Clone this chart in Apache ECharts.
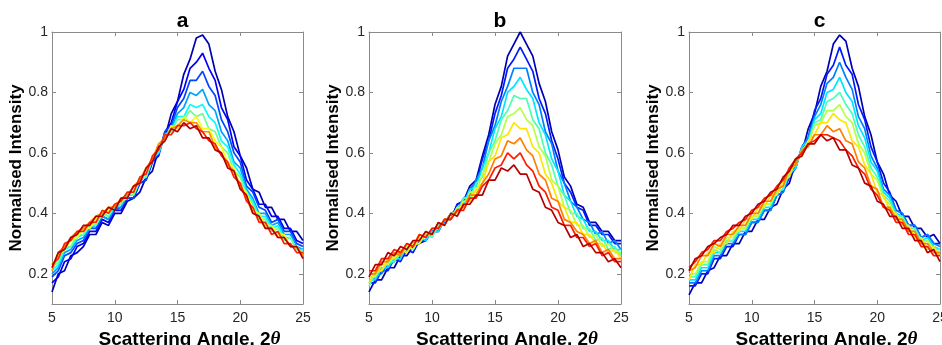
<!DOCTYPE html>
<html>
<head>
<meta charset="utf-8">
<script src="https://cdn.jsdelivr.net/npm/echarts@6/dist/echarts.min.js"></script>
<style>
  html, body { margin: 0; padding: 0; background: #fff; }
  #chart { width: 942px; height: 345px; }
</style>
</head>
<body>
<div id="chart"></div>
<script>
// scattering angle grid (2 theta), shared by all curves
const angles = [5,5.5,6,6.5,7,7.5,8,8.5,9,9.5,10,10.5,11,11.5,12,12.5,13,13.5,14,14.5,15,
  15.5,16,16.5,17,17.5,18,18.5,19,19.5,20,20.5,21,21.5,22,22.5,23,23.5,24,24.5,25];
const yTicks = [0.2, 0.4, 0.6, 0.8, 1];
const panelTitles = ['a', 'b', 'c'];

// normalised intensity, in hundredths, first curve (blue) to last curve (red)
const panelA = [
  [14,20,21,26,27,29,33,33,37,36,40,40,44,45,47,52,54,61,65,73,77,86,91,98,99,96,87,81,72,67,59,55,48,47,42,42,38,38,34,34,31],
  [17,19,24,25,29,30,34,34,38,37,41,41,45,45,50,51,57,59,67,70,77,81,88,90,93,88,84,75,71,62,59,51,48,43,43,39,39,35,35,31,30],
  [19,21,26,27,30,31,35,35,39,38,41,42,45,45,50,51,57,60,67,69,75,78,84,84,87,82,79,71,67,60,57,49,47,42,41,37,38,34,34,30,29],
  [20,22,27,28,31,32,35,36,39,38,42,42,46,46,51,52,58,60,66,68,73,75,80,79,81,76,74,67,64,57,55,48,45,40,40,36,37,33,33,29,28],
  [21,23,28,29,32,33,36,36,40,39,42,43,46,46,51,52,58,60,66,67,72,72,76,75,76,72,70,64,62,56,53,47,44,39,39,35,36,32,32,28,28],
  [22,24,29,29,33,33,36,36,40,39,43,43,47,46,51,52,58,61,66,67,71,71,74,72,73,68,67,62,60,54,52,46,43,38,38,34,35,31,32,28,27],
  [23,26,28,31,32,35,35,38,39,41,43,44,45,49,50,55,57,63,64,69,68,72,70,72,68,68,64,62,57,55,49,47,41,40,36,36,33,33,29,29,26],
  [21,27,29,32,34,35,37,39,40,42,42,45,46,49,51,55,58,63,65,68,69,71,70,70,67,67,62,60,56,54,49,45,40,39,35,35,32,32,29,29,26],
  [23,25,30,31,34,34,37,37,41,40,43,44,47,47,52,53,59,61,66,66,69,69,70,68,67,64,63,59,57,52,50,44,42,37,37,33,34,30,30,27,27],
  [22,27,28,32,33,36,36,39,39,42,41,45,45,49,50,55,57,62,64,68,67,70,68,69,65,65,61,60,55,54,48,46,40,39,35,35,32,32,29,29,25]
];
const panelB = [
  [14,18,18,22,22,26,26,29,30,31,34,34,38,38,43,44,49,51,59,66,76,82,92,96,100,96,92,83,77,67,61,52,49,43,42,37,37,34,34,31,31],
  [17,17,21,21,25,24,28,27,31,31,34,34,38,38,43,44,48,50,58,64,73,79,88,91,95,91,87,78,73,64,58,50,47,42,41,36,36,33,33,30,30],
  [17,19,20,23,24,27,28,30,31,33,33,36,37,40,41,45,46,51,55,64,69,77,82,88,88,88,80,76,67,63,54,50,44,42,38,37,33,34,30,31,28],
  [18,18,22,22,25,25,29,28,32,31,34,34,38,38,42,43,48,49,55,60,68,72,80,82,85,81,78,70,66,58,54,46,44,39,38,34,34,31,31,28,28],
  [16,20,21,24,24,27,28,30,30,33,32,36,36,40,40,45,45,50,52,60,64,71,74,79,78,78,71,68,60,56,49,46,40,40,35,35,31,32,28,29,26],
  [19,19,23,23,26,26,29,28,32,32,35,35,38,38,42,42,47,47,53,57,63,66,72,73,75,71,69,62,59,51,49,42,41,36,36,32,33,29,30,27,27],
  [17,21,21,25,25,28,27,30,30,34,33,37,36,40,40,44,44,48,50,57,59,65,66,70,68,68,62,60,53,50,44,42,37,37,33,33,30,30,27,28,25],
  [20,20,24,24,27,26,30,29,33,32,35,35,38,38,41,42,46,46,50,53,58,59,64,63,65,61,59,53,51,45,44,38,37,34,33,30,31,27,28,25,25],
  [21,21,25,25,28,27,30,29,33,32,35,35,38,38,41,41,45,45,49,51,55,56,60,58,60,56,54,49,47,42,41,36,36,32,32,29,30,26,27,24,24],
  [19,23,23,27,26,29,28,31,31,34,33,37,36,40,39,43,43,46,46,51,51,55,54,56,53,53,48,47,42,41,37,36,32,33,29,30,27,27,24,25,22]
];
const panelC = [
  [13,17,17,21,22,26,26,30,30,34,34,38,38,42,43,48,50,57,60,68,73,82,87,96,99,97,88,82,72,66,57,53,46,44,39,39,35,35,32,33,30],
  [16,16,20,20,25,25,29,29,33,33,37,37,41,41,46,47,52,55,62,65,74,78,86,89,95,89,86,76,71,62,57,50,47,41,40,36,36,32,33,30,30],
  [17,17,21,21,26,26,30,30,33,33,37,37,41,41,46,47,53,55,62,65,72,76,83,85,90,85,81,72,68,59,55,48,46,41,40,36,36,32,33,30,29],
  [18,18,22,22,27,27,31,31,34,34,38,38,42,42,47,48,53,55,62,64,71,73,80,81,85,80,77,69,65,57,54,47,45,40,39,35,35,31,32,29,28],
  [19,19,23,23,28,27,31,31,35,35,39,39,43,43,47,48,54,56,61,63,70,71,77,78,80,76,73,66,62,55,52,46,44,39,39,35,35,31,31,28,28],
  [20,20,24,24,29,28,32,32,35,35,39,39,43,43,48,49,54,56,61,63,69,70,74,74,76,72,70,63,60,53,51,45,43,39,38,34,34,30,31,28,27],
  [18,23,23,27,27,30,30,34,34,38,38,42,42,46,46,51,52,58,59,64,66,70,70,73,71,70,64,62,56,53,47,46,41,40,36,36,32,32,28,29,26],
  [21,22,26,26,30,29,33,33,36,36,40,40,44,44,48,49,55,56,61,62,66,66,69,67,68,64,63,57,55,49,48,42,42,38,38,34,34,30,30,27,27],
  [22,24,27,28,31,31,34,35,37,38,41,42,45,46,49,51,55,58,60,63,64,66,66,65,64,61,59,55,53,48,46,42,41,37,37,33,33,29,29,26,26],
  [21,25,26,29,30,32,33,36,36,39,40,43,44,47,48,52,54,58,59,63,63,66,64,65,61,61,56,55,50,49,44,43,39,39,35,35,31,31,27,28,24]
];

// colour position of each curve on the jet map
const jetPosA = [0, 0.08, 0.16, 0.26, 0.36, 0.48, 0.62, 0.76, 0.88, 1];
const jetPosEven = [0, 1/9, 2/9, 3/9, 4/9, 5/9, 6/9, 7/9, 8/9, 1];

// matlab-like jet, ends pulled in a little so navy / maroon are less dark
function jet(t) {
  t = 0.05 + 0.9 * t;
  const c = v => Math.round(255 * Math.max(0, Math.min(1, v)));
  const r = c(1.5 - Math.abs(4 * t - 3));
  const g = c(1.5 - Math.abs(4 * t - 2));
  const b = c(1.5 - Math.abs(4 * t - 1));
  return 'rgb(' + r + ',' + g + ',' + b + ')';
}

const FONT = 'Liberation Sans, Arial, sans-serif';
const AXIS_GREY = '#8a8a8a';
const grids = [
  { left: 52, top: 32, width: 251, height: 272, outerBoundsMode: 'none' },
  { left: 369, top: 32, width: 252, height: 272, outerBoundsMode: 'none' },
  { left: 689, top: 32, width: 251, height: 272, outerBoundsMode: 'none' }
];
const panels = [
  { curves: panelA, jetPos: jetPosA },
  { curves: panelB, jetPos: jetPosEven },
  { curves: panelC, jetPos: jetPosEven }
];

const xAxes = [];
const yAxes = [];
const series = [];
const titles = [];

grids.forEach((g, p) => {
  const line = { show: true, lineStyle: { color: AXIS_GREY, width: 1 } };
  const tick = { show: true, inside: true, length: 4, lineStyle: { color: AXIS_GREY } };
  xAxes.push({
    type: 'value', gridIndex: p, min: 5, max: 25, interval: 5, position: 'bottom',
    axisLine: line, axisTick: tick, splitLine: { show: false },
    axisLabel: { fontSize: 14, color: '#262626', fontFamily: FONT, margin: 7 },
    name: 'Scattering Angle, 2{t|θ}', nameLocation: 'middle', nameGap: 20,
    nameTextStyle: {
      fontSize: 19, fontWeight: 'bold', color: '#000', fontFamily: FONT, padding: [0, 0, 0, 24],
      rich: { t: { fontSize: 19, fontWeight: 'bold', fontStyle: 'italic', fontFamily: 'Liberation Serif, serif', color: '#000' } }
    }
  });
  xAxes.push({
    type: 'value', gridIndex: p, min: 5, max: 25, interval: 5, position: 'top',
    axisLine: line, axisTick: tick, axisLabel: { show: false }, splitLine: { show: false }
  });
  yAxes.push({
    type: 'value', gridIndex: p, min: 0.1, max: 1, position: 'left',
    axisLine: line, axisTick: Object.assign({ customValues: yTicks }, tick), splitLine: { show: false },
    axisLabel: {
      customValues: yTicks, fontSize: 14, color: '#262626', fontFamily: FONT, margin: 4,
      formatter: v => String(Math.round(v * 10) / 10)
    },
    name: 'Normalised Intensity', nameLocation: 'middle', nameGap: 16,
    nameTextStyle: { fontSize: 17, fontWeight: 'bold', color: '#000', fontFamily: FONT }
  });
  yAxes.push({
    type: 'value', gridIndex: p, min: 0.1, max: 1, position: 'right',
    axisLine: line, axisTick: Object.assign({ customValues: yTicks }, tick),
    axisLabel: { show: false }, splitLine: { show: false }
  });
  titles.push({
    text: panelTitles[p], left: g.left + g.width / 2, top: 6, textAlign: 'center',
    textStyle: { fontSize: 21, fontWeight: 'bold', color: '#000', fontFamily: FONT }
  });
  panels[p].curves.forEach((row, i) => {
    series.push({
      type: 'line', xAxisIndex: 2 * p, yAxisIndex: 2 * p,
      data: angles.map((x, k) => [x, row[k] / 100]),
      showSymbol: false, silent: true,
      lineStyle: { width: 1.7, color: jet(panels[p].jetPos[i]) }
    });
  });
});

const chart = echarts.init(document.getElementById('chart'), null, { renderer: 'canvas' });
chart.setOption({
  animation: false,
  backgroundColor: '#fff',
  title: titles,
  grid: grids,
  xAxis: xAxes,
  yAxis: yAxes,
  series: series
});
</script>
</body>
</html>
